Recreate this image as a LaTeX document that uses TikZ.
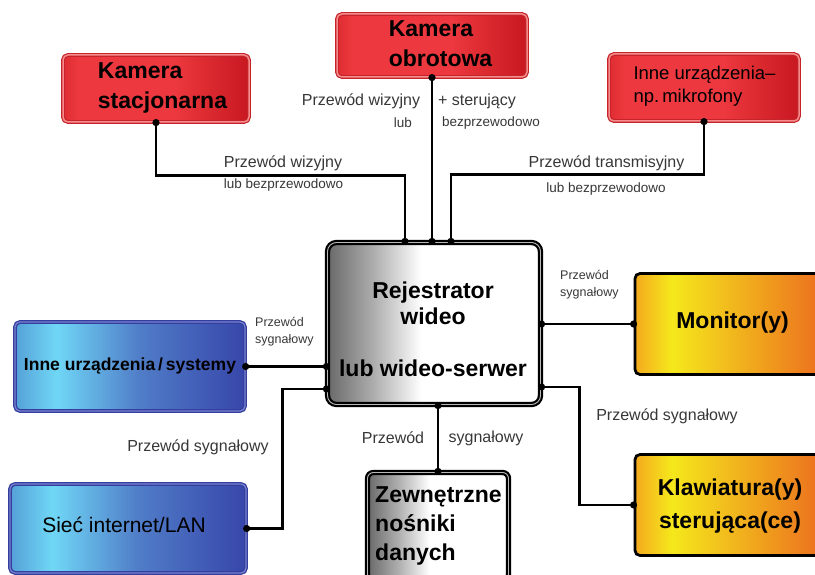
\documentclass[tikz,border=0pt]{standalone}
\usepackage{fontspec}
\setmainfont{Liberation Sans}
\usetikzlibrary{calc}
\definecolor{rdA}{RGB}{222,45,50}
\definecolor{rdB}{RGB}{236,56,62}
\definecolor{rdC}{RGB}{200,24,32}
\definecolor{rdE}{RGB}{196,36,42}
\definecolor{rdD}{RGB}{246,140,140}
\definecolor{blA}{RGB}{85,160,215}
\definecolor{blB}{RGB}{112,215,246}
\definecolor{blC}{RGB}{80,125,200}
\definecolor{blD}{RGB}{55,70,170}
\definecolor{blE}{RGB}{52,62,160}
\definecolor{blF}{RGB}{120,130,205}
\definecolor{orA}{RGB}{244,170,30}
\definecolor{orB}{RGB}{245,232,28}
\definecolor{orC}{RGB}{236,112,30}
\definecolor{gyA}{RGB}{105,105,105}
\definecolor{gyB}{RGB}{175,175,175}
\definecolor{lbl}{RGB}{55,55,55}
% path spans 25bp..75bp of each shading
\pgfdeclarehorizontalshading{redsh}{100bp}{color(0bp)=(rdA); color(25bp)=(rdA); color(29bp)=(rdB); color(55bp)=(rdB); color(75bp)=(rdC); color(100bp)=(rdC)}
\pgfdeclarehorizontalshading{bluesh}{100bp}{color(0bp)=(blA); color(25bp)=(blA); color(34bp)=(blB); color(52bp)=(blC); color(75bp)=(blD); color(100bp)=(blD)}
\pgfdeclarehorizontalshading{orsh}{100bp}{color(0bp)=(orA); color(25bp)=(orA); color(35bp)=(orB); color(75bp)=(orC); color(100bp)=(orC)}
\pgfdeclarehorizontalshading{graysh}{100bp}{color(0bp)=(gyA); color(25bp)=(gyA); color(36bp)=(gyB); color(47bp)=(white); color(100bp)=(white)}
\newcommand\myBig{\bfseries\fontsize{23}{30}\selectfont}
\newcommand\myMed{\fontsize{16}{19}\selectfont}
\newcommand\mySm{\fontsize{13.5}{16}\selectfont}
\newcommand\myTiny{\fontsize{12.5}{17}\selectfont}
\tikzset{
  box/.style={rectangle, rounded corners=5pt, inner sep=0pt, shade},
  redbox/.style={box, shading=redsh, draw=rdE, line width=1.2pt, double=rdD, double distance=1.5pt},
  bluebox/.style={box, shading=bluesh, draw=blE, line width=1.3pt, double=blF, double distance=1.2pt},
  orbox/.style={box, shading=orsh, draw=black, line width=2.8pt},
  graybox/.style={box, shading=graysh, draw=black, line width=2.2pt, double=gray!55, double distance=0.9pt, rounded corners=9pt},
  txt/.style={inner sep=0pt, text=black},
  lab/.style={inner sep=0pt, text=lbl},
  wire/.style={line width=2.8pt, black},
}
\begin{document}
\begin{tikzpicture}[x=1pt,y=-1pt]
\useasboundingbox (0,0) rectangle (815,575);
% boxes
\node[redbox, minimum width=186pt, minimum height=67pt] (ks) at (156,88.5) {};
\node[redbox, minimum width=190pt, minimum height=63pt] (ko) at (432,45.5) {};
\node[redbox, minimum width=190pt, minimum height=67pt] (iu) at (704,87.5) {};
\node[bluebox, minimum width=230pt, minimum height=89pt] (ius) at (130,366.5) {};
\node[bluebox, minimum width=236pt, minimum height=89pt] (sn) at (128,528.5) {};
\node[orbox, minimum width=186pt, minimum height=101pt] (mon) at (728,324) {};
\node[orbox, minimum width=186pt, minimum height=101pt] (kl) at (728,505) {};
\node[graybox, minimum width=213pt, minimum height=162pt] (rej) at (434,323.5) {};
\node[graybox, minimum width=141pt, minimum height=108pt, rounded corners=6pt] (zn) at (438,526.5) {};
% box texts
\node[txt, font=\myBig, align=left] (ksT) at (162.5,88) {Kamera\\stacjonarna};
\node[txt, font=\myBig, align=left] (koT) at (440.5,44) {Kamera\\obrotowa};
\node[txt, font=\fontsize{18.5}{23}\selectfont, align=left] (iuT) at (704.5,86.5) {Inne urządzenia–\\np.\,mikrofony};
\node[txt, font=\bfseries\fontsize{17.5}{21}\selectfont] (iusT) at (130,366) {Inne urządzenia\,/\,systemy};
\node[txt, font=\fontsize{21}{25}\selectfont] (snT) at (124,525) {Sieć internet/LAN};
\node[txt, font=\myBig] (monT) at (732.5,323) {Monitor(y)};
\node[txt, font=\bfseries\fontsize{23}{33}\selectfont, align=center] (klT) at (730,506.5) {Klawiatura(y)\\sterująca(ce)};
\node[txt, font=\bfseries\fontsize{23}{26}\selectfont, align=center] (rejT) at (433,329) {Rejestrator\\wideo\\[26pt]lub wideo-serwer};
\node[txt, font=\bfseries\fontsize{23}{29}\selectfont, align=left, anchor=west] (znT) at (375,526) {Zewnętrzne\\nośniki\\danych};
% connectors
\coordinate (t1) at ($(rej.north)+(-29,0)$);
\coordinate (t2) at (ko.south |- rej.north);
\coordinate (t3) at ($(rej.north)+(17,0)$);
\coordinate (l1) at (ius.east -| rej.west);
\coordinate (l2) at ($(rej.west)+(0,65.5)$);
\coordinate (r1) at (mon.west -| rej.east);
\coordinate (r2) at ($(rej.east)+(0,63.5)$);
\coordinate (b1) at (zn.north |- rej.south);
\draw[wire] (ks.south) -- ++(0,53) -| (t1);
\draw[wire] (ko.south) -- (t2);
\draw[wire] (iu.south) -- ++(0,53) -| (t3);
\draw[wire] (ius.east) -- (l1);
\draw[wire] (sn.east) -- ++(36,0) |- (l2);
\draw[wire] (mon.west) -- (r1);
\draw[wire] (r2) -- ++(38,0) |- (kl.west);
\draw[wire] (zn.north) -- (b1);
\foreach \p in {ks.south,t1,ko.south,t2,iu.south,t3,ius.east,l1,sn.east,l2,mon.west,r1,r2,kl.west,zn.north,b1}
  \fill (\p) circle (3.6pt);
% connector labels
\node[lab, font=\myMed] (a1) at (361,101) {Przewód wizyjny};
\node[lab, font=\mySm] (a2) at (403,123) {lub};
\node[lab, font=\myMed] (a3) at (477,101) {+ sterujący};
\node[lab, font=\mySm] (a4) at (491,123) {bezprzewodowo};
\node[lab, font=\myMed] (a5) at (283,163) {Przewód wizyjny};
\node[lab, font=\mySm] (a6) at (283.5,185) {lub bezprzewodowo};
\node[lab, font=\myMed] (a7) at (606.5,163) {Przewód transmisyjny};
\node[lab, font=\mySm] (a8) at (606,189) {lub bezprzewodowo};
\node[lab, font=\myTiny, align=left, anchor=west] (a9) at (255,331.5) {Przewód\\sygnałowy};
\node[lab, font=\myTiny, align=left, anchor=west] (a10) at (560,284.5) {Przewód\\sygnałowy};
\node[lab, font=\myMed] (a11) at (198,447) {Przewód sygnałowy};
\node[lab, font=\myMed] (a12) at (393,438) {Przewód};
\node[lab, font=\myMed] (a13) at (486,438) {sygnałowy};
\node[lab, font=\myMed] (a14) at (667,416) {Przewód sygnałowy};
\end{tikzpicture}
\end{document}
